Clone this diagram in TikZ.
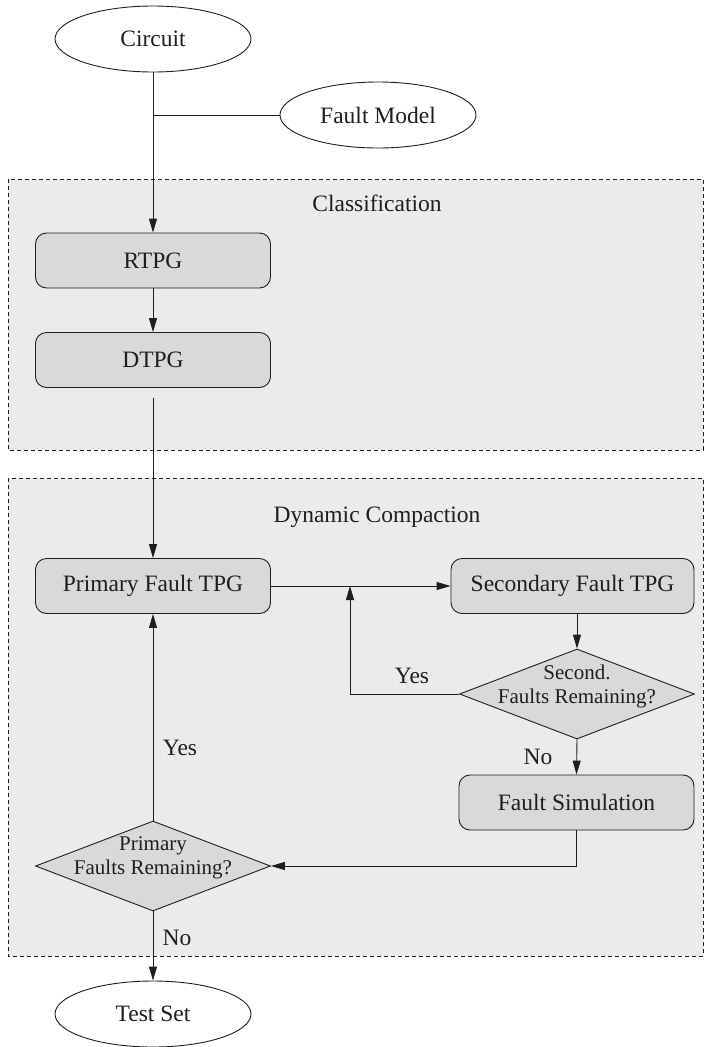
\documentclass[tikz,border=0pt]{standalone}
\usepackage{fontspec}
\setmainfont{Liberation Serif}
\usetikzlibrary{shapes.geometric,arrows.meta}
\definecolor{regionfill}{HTML}{EBEBEB}
\definecolor{boxfill}{HTML}{D9D9D9}
\definecolor{ink}{HTML}{1E1E1E}

\begin{document}
\begin{tikzpicture}[x=1pt,y=-1pt,
  every node/.style={text=ink},
  terminal/.style={ellipse, draw=ink, line width=0.9pt, minimum width=196pt,
    minimum height=66pt, inner sep=0pt, font=\fontsize{23.5}{28}\selectfont},
  process/.style={rectangle, rounded corners=11pt, draw=ink, line width=0.9pt,
    fill=boxfill, minimum width=235pt, minimum height=55pt, inner sep=0pt,
    font=\fontsize{23.5}{28}\selectfont},
  decision/.style={diamond, draw=ink, line width=0.9pt, fill=boxfill,
    minimum width=235pt, minimum height=90pt, inner sep=0pt},
  dectext/.style={font=\fontsize{21}{24}\selectfont, align=center, text=ink, yshift=8pt},
  region/.style={draw=ink, line width=0.8pt, dash pattern=on 4pt off 3pt, fill=regionfill},
  title/.style={font=\fontsize{23.5}{28}\selectfont},
  tag/.style={font=\fontsize{23.5}{28}\selectfont},
  flow/.style={draw=ink, line width=0.9pt},
  arrow/.style={flow, -{Triangle[length=14pt,width=8pt]}}
]
\useasboundingbox (0,0) rectangle (706,1047);

% dashed stage regions
\draw[region] (8,179) rectangle (703,450);
\draw[region] (8,478) rectangle (703,956);
\node[title] (classtitle) at (377,203) {Classification};
\node[title] (dyntitle) at (377,517) {Dynamic Compaction};

% inputs and output
\node[terminal] (circuit) at (153,39) {Circuit};
\node[terminal] (faultmodel) at (378,115) {Fault Model};
\node[terminal] (testset) at (153,1014) {Test Set};

% classification stage
\node[process] (rtpg) at (153,260.5) {RTPG};
\node[process] (dtpg) at (153,360) {DTPG};

% dynamic compaction stage
\node[process] (primary) at (153,586) {Primary Fault TPG};
\node[process, minimum width=243pt] (secondary) at (572.5,586) {Secondary Fault TPG};
\node[decision, label={[dectext]center:Second.\\Faults Remaining?}] (dec2) at (577,694) {};
\node[process] (fsim) at (576.5,802.5) {Fault Simulation};
\node[decision, label={[dectext]center:Primary\\Faults Remaining?}] (dec1) at (153,866) {};

% connectors
\coordinate (merge) at (circuit.south |- faultmodel.west);
\draw[arrow] (circuit.south) -- (rtpg.north);
\draw[flow] (faultmodel.west) -- (merge);
\draw[arrow] (rtpg.south) -- (dtpg.north);
\draw[arrow] ([yshift=-10pt]dtpg.south) -- (primary.north);
\draw[arrow] (primary.east) -- (secondary.west);
\draw[arrow] (dec2.north |- secondary.south) -- (dec2.north);
\coordinate (loopjoin) at (350,586);
\draw[arrow] (dec2.west) -| (loopjoin);
\draw[arrow] (dec2.south) -- (fsim.north);
\draw[arrow] (fsim.south) |- (dec1.east);
\draw[arrow] (dec1.north) -- (primary.south);
\draw[arrow] (dec1.south) -- (testset.north);

% branch labels
\node[tag] (yes2) at (412,676) {Yes};
\node[tag] (no2) at (538,757) {No};
\node[tag] (yes1) at (180,748) {Yes};
\node[tag] (no1) at (177,938) {No};
\end{tikzpicture}
\end{document}
